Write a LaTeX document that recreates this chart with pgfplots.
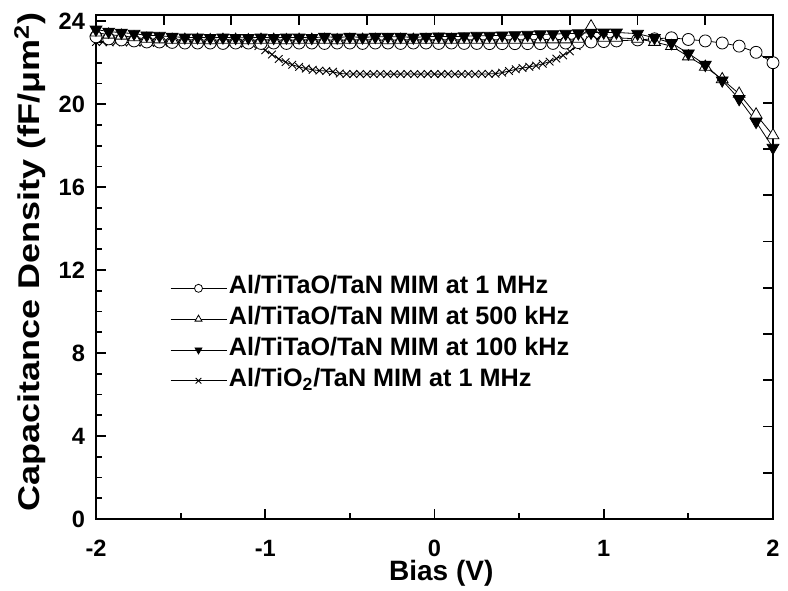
\documentclass[border=0pt]{standalone}
\usepackage{fontspec}
\setmainfont{Liberation Sans}
\usepackage{graphicx}
\usepackage{pgfplots}
\pgfplotsset{compat=1.18}
\begin{document}
\begin{tikzpicture}
\begin{axis}[
  scale only axis,
  width=338.5pt, height=252pt,
  at={(0,0)}, anchor=south west,
  xmin=-2, xmax=2, ymin=0, ymax=24.3,
  xtick={-2,-1,0,1,2}, minor x tick num=1,
  ytick={0,4,8,12,16,20,24}, minor y tick num=3,
  xtick pos=left, ytick pos=left,
  tick align=inside,
  major tick length=5pt, minor tick length=3pt,
  every tick/.style={line width=0.9pt, black},
  axis line style={line width=1.1pt},
  /pgf/number format/assume math mode=true,
  ticklabel style={font=\fontsize{11.8}{13}\selectfont\bfseries},
  xticklabel style={anchor=center, yshift=-14.5pt},
  yticklabel style={anchor=east, xshift=-2pt},
  xlabel={Bias (V)},
  every axis x label/.style={at={(axis description cs:0.51,0)}, anchor=center, yshift=-27pt, font=\fontsize{14}{16}\selectfont\bfseries},
  ylabel={\scalebox{1.2}[1]{Capacitance Density (fF/μm\textsuperscript{2})}},
  every axis y label/.style={at={(axis description cs:-0.0975,0.51)}, anchor=center, rotate=90, font=\fontsize{15}{17}\selectfont\bfseries},
  legend style={at={(axis description cs:0.10,0.497)}, anchor=north west, draw=none, fill=none,
    font=\fontsize{12.6}{14}\selectfont\bfseries, row sep=0pt,
    nodes={inner sep=1pt, text height=9.4pt, text depth=4pt}},
  legend cell align=left,
  legend image code/.code={\draw[mark repeat=2,mark phase=2,#1] plot coordinates {(0pt,0pt) (14pt,0pt) (28pt,0pt)};},
  legend image post style={mark size=2pt},
]
% TiO2 (drawn first, behind)
\addplot[black, line width=0.4pt, mark=x, mark size=2.7pt, mark options={line width=0.45pt}, forget plot] coordinates {
(-2.00,23.00) (-1.96,23.00) (-1.92,22.98) (-1.88,23.00) (-1.84,22.98) (-1.80,22.98) (-1.76,22.97) (-1.72,22.98)
(-1.68,22.97) (-1.64,22.96) (-1.60,22.97) (-1.56,22.96) (-1.52,22.96) (-1.48,22.95) (-1.44,22.96) (-1.40,22.95)
(-1.36,22.95) (-1.32,22.94) (-1.28,22.95) (-1.24,22.94) (-1.20,22.94) (-1.16,22.93) (-1.12,22.92) (-1.08,22.90)
(-1.04,22.80) (-1.00,22.60) (-0.96,22.40) (-0.92,22.18) (-0.88,22.03) (-0.84,21.90) (-0.80,21.80) (-0.76,21.72)
(-0.72,21.66) (-0.68,21.62) (-0.64,21.60) (-0.60,21.56) (-0.56,21.48) (-0.52,21.46) (-0.48,21.45) (-0.44,21.46)
(-0.40,21.45) (-0.36,21.45) (-0.32,21.46) (-0.28,21.45) (-0.24,21.45) (-0.20,21.45) (-0.16,21.46) (-0.12,21.45)
(-0.08,21.45) (-0.04,21.46) (0.00,21.45) (0.04,21.45) (0.08,21.46) (0.12,21.45) (0.16,21.45) (0.20,21.46)
(0.24,21.45) (0.28,21.46) (0.32,21.46) (0.36,21.47) (0.40,21.52) (0.44,21.60) (0.48,21.68) (0.52,21.74)
(0.56,21.80) (0.60,21.86) (0.64,21.95) (0.68,22.05) (0.72,22.20) (0.76,22.35) (0.80,22.55) (0.84,22.80)
(0.88,22.98) (0.92,23.08) (0.96,23.14) (1.00,23.18)
};
% 1 MHz circles
\addplot[black, line width=0.4pt, mark=*, mark size=3pt, mark options={fill=white, draw=black, line width=0.4pt}] coordinates {
(-2.000,23.25) (-1.925,23.15) (-1.850,23.10) (-1.775,23.05) (-1.700,23.00) (-1.625,23.00) (-1.550,22.98) (-1.475,22.95)
(-1.400,22.95) (-1.325,22.95) (-1.250,22.93) (-1.175,22.95) (-1.100,22.95) (-1.025,22.93) (-0.950,22.95) (-0.875,22.93)
(-0.800,22.95) (-0.725,22.95) (-0.650,22.93) (-0.575,22.95) (-0.500,22.95) (-0.425,22.93) (-0.350,22.95) (-0.275,22.95)
(-0.200,22.93) (-0.125,22.95) (-0.050,22.95) (0.025,22.93) (0.100,22.95) (0.175,22.93) (0.250,22.93) (0.325,22.92)
(0.400,22.92) (0.475,22.92) (0.550,22.92) (0.625,22.92) (0.700,22.93) (0.775,22.95) (0.850,22.97) (0.925,23.00)
(1.000,23.02) (1.075,23.05) (1.200,23.10) (1.300,23.15) (1.400,23.20) (1.500,23.12) (1.600,23.05) (1.700,22.95)
(1.800,22.80) (1.900,22.50) (2.000,22.00)
};
\addlegendentry{Al/TiTaO/TaN MIM at 1 MHz}
% 500 kHz up triangles
\addplot[black, line width=0.4pt, mark=triangle*, mark size=3.4pt, mark options={fill=white, draw=black, line width=0.4pt}] coordinates {
(-2.000,23.45) (-1.925,23.35) (-1.850,23.30) (-1.775,23.22) (-1.700,23.15) (-1.625,23.12) (-1.550,23.10) (-1.475,23.10)
(-1.400,23.10) (-1.325,23.08) (-1.250,23.10) (-1.175,23.10) (-1.100,23.08) (-1.025,23.10) (-0.950,23.10) (-0.875,23.08)
(-0.800,23.10) (-0.725,23.10) (-0.650,23.10) (-0.575,23.08) (-0.500,23.10) (-0.425,23.10) (-0.350,23.10) (-0.275,23.08)
(-0.200,23.10) (-0.125,23.10) (-0.050,23.10) (0.025,23.10) (0.100,23.10) (0.175,23.10) (0.250,23.10) (0.325,23.10)
(0.400,23.10) (0.475,23.10) (0.550,23.10) (0.625,23.12) (0.700,23.12) (0.775,23.12) (0.850,23.15) (0.925,23.75)
(1.000,23.20) (1.075,23.20) (1.200,23.15) (1.300,23.00) (1.400,22.80) (1.500,22.30) (1.600,21.80) (1.700,21.20)
(1.800,20.50) (1.900,19.50) (2.000,18.50)
};
\addlegendentry{Al/TiTaO/TaN MIM at 500 kHz}
% 100 kHz down triangles
\addplot[black, line width=0.4pt, mark=triangle*, mark size=3.4pt, mark options={rotate=180, fill=black, draw=black, line width=0.4pt}] coordinates {
(-2.000,23.60) (-1.925,23.50) (-1.850,23.45) (-1.775,23.40) (-1.700,23.32) (-1.625,23.30) (-1.550,23.25) (-1.475,23.22)
(-1.400,23.22) (-1.325,23.20) (-1.250,23.22) (-1.175,23.20) (-1.100,23.20) (-1.025,23.22) (-0.950,23.20) (-0.875,23.22)
(-0.800,23.22) (-0.725,23.20) (-0.650,23.25) (-0.575,23.22) (-0.500,23.25) (-0.425,23.22) (-0.350,23.25) (-0.275,23.25)
(-0.200,23.25) (-0.125,23.22) (-0.050,23.25) (0.025,23.27) (0.100,23.25) (0.175,23.28) (0.250,23.30) (0.325,23.30)
(0.400,23.32) (0.475,23.33) (0.550,23.35) (0.625,23.37) (0.700,23.38) (0.775,23.40) (0.850,23.42) (0.925,23.45)
(1.000,23.46) (1.075,23.46) (1.200,23.40) (1.300,23.20) (1.400,22.95) (1.500,22.45) (1.600,21.90) (1.700,21.15)
(1.800,20.25) (1.900,19.15) (2.000,17.90)
};
\addlegendentry{Al/TiTaO/TaN MIM at 100 kHz}
\addlegendimage{black, line width=0.4pt, mark=x, mark size=2.7pt, mark options={line width=0.45pt}}
\addlegendentry{Al/TiO\textsubscript{2}/TaN MIM at 1 MHz}
\end{axis}
% overlay axis for top/right ticks
\begin{axis}[
  scale only axis,
  width=338.5pt, height=252pt,
  at={(0,0)}, anchor=south west,
  xmin=-2, xmax=2, ymin=0, ymax=10.9,
  xtick={-2,-1.6,-1.2,-0.8,-0.4,0,0.4,0.8,1.2,1.6,2},
  ytick={0,1,2,3,4,5,6,7,8,9,10},
  xticklabels={}, yticklabels={},
  xtick pos=right, ytick pos=right,
  tick align=inside, major tick length=5pt,
  every tick/.style={line width=0.9pt, black},
  axis line style={draw=none},
]
\end{axis}
\pgfresetboundingbox
\path[use as bounding box] (-48pt,-35.5pt) rectangle (346pt,259.5pt);
\end{tikzpicture}
\end{document}
